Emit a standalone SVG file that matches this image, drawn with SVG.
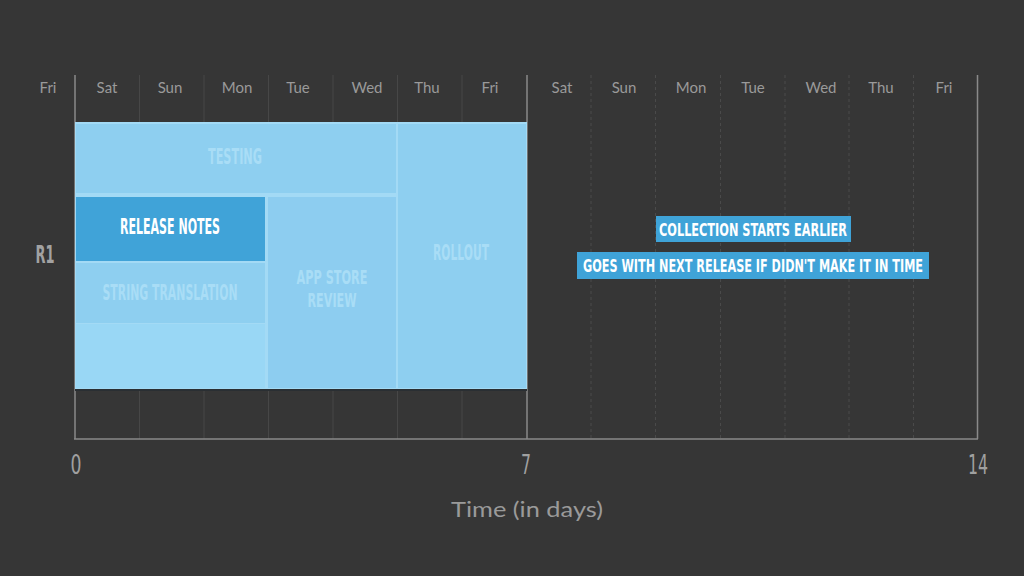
<svg xmlns="http://www.w3.org/2000/svg" width="1024" height="576" viewBox="0 0 1024 576">
<style>
.day{font-family:Lato,"Open Sans",sans-serif;font-size:15px;fill:#9a9a9a;text-anchor:middle}
.cond{font-family:"DejaVu Sans Condensed","DejaVu Sans",sans-serif;font-weight:bold;text-anchor:middle}
.blk{font-size:21px;fill:#a9ddf6}
.grid{stroke:#474747;stroke-width:1}
.dash{stroke:#4a4a4a;stroke-width:1;stroke-dasharray:3 3}
.axis{stroke:#8a8a8a;stroke-width:1.5}
.tag{fill:#3fa3d8}
.tagt{font-size:18.5px;fill:#ffffff}
.num{font-size:26px;fill:#a0a0a0;font-weight:normal}
</style>
<rect width="1024" height="576" fill="#363636"/>
<g id="header">
<text class="day" x="48" y="93">Fri</text>
<text class="day" x="107" y="93">Sat</text>
<text class="day" x="170" y="93">Sun</text>
<text class="day" x="237" y="93">Mon</text>
<text class="day" x="298" y="93">Tue</text>
<text class="day" x="367" y="93">Wed</text>
<text class="day" x="427" y="93">Thu</text>
<text class="day" x="490" y="93">Fri</text>
<text class="day" x="562" y="93">Sat</text>
<text class="day" x="624" y="93">Sun</text>
<text class="day" x="691" y="93">Mon</text>
<text class="day" x="753" y="93">Tue</text>
<text class="day" x="821" y="93">Wed</text>
<text class="day" x="881" y="93">Thu</text>
<text class="day" x="944" y="93">Fri</text>
</g>
<g id="grid">
<line class="grid" x1="139.5" y1="75" x2="139.5" y2="439"/>
<line class="grid" x1="204" y1="75" x2="204" y2="439"/>
<line class="grid" x1="268.5" y1="75" x2="268.5" y2="439"/>
<line class="grid" x1="333" y1="75" x2="333" y2="439"/>
<line class="grid" x1="397.5" y1="75" x2="397.5" y2="439"/>
<line class="grid" x1="462" y1="75" x2="462" y2="439"/>
<line class="dash" x1="591" y1="75" x2="591" y2="439"/>
<line class="dash" x1="655.5" y1="75" x2="655.5" y2="439"/>
<line class="dash" x1="720.5" y1="75" x2="720.5" y2="439"/>
<line class="dash" x1="785" y1="75" x2="785" y2="439"/>
<line class="dash" x1="849" y1="75" x2="849" y2="439"/>
<line class="dash" x1="913.5" y1="75" x2="913.5" y2="439"/>
<line class="axis" x1="75" y1="75" x2="75" y2="439"/>
<line class="axis" x1="527" y1="75" x2="527" y2="439"/>
<line class="axis" x1="977.5" y1="75" x2="977.5" y2="439"/>
<line class="axis" x1="74" y1="439" x2="978" y2="439"/>
</g>
<g id="r1-block">
<rect x="75" y="122" width="452" height="267" fill="#a3daf5"/>
<rect x="75" y="389" width="452" height="2" fill="#2a2f33"/>
</g>
<g id="testing">
<rect x="76" y="124" width="320" height="69" fill="#8ecff0"/>
<text class="cond blk" x="235" y="164" textLength="54" lengthAdjust="spacingAndGlyphs">TESTING</text>
</g>
<g id="release-notes">
<rect x="76" y="197" width="189" height="64" fill="#40a3d8"/>
<text class="cond blk" x="170" y="234" style="fill:#ffffff" textLength="100" lengthAdjust="spacingAndGlyphs">RELEASE NOTES</text>
</g>
<g id="string-translation">
<rect x="76" y="263" width="189" height="60" fill="#8ecff0"/>
<rect x="76" y="324" width="189" height="64" fill="#99d7f5"/>
<text class="cond blk" x="170" y="300" textLength="135" lengthAdjust="spacingAndGlyphs">STRING TRANSLATION</text>
</g>
<g id="app-store-review">
<rect x="268" y="197" width="128" height="191" fill="#8dcdf0"/>
<text class="cond blk" style="font-size:19px"><tspan x="332" y="284" textLength="71" lengthAdjust="spacingAndGlyphs">APP STORE</tspan><tspan x="332" y="307" textLength="49" lengthAdjust="spacingAndGlyphs">REVIEW</tspan></text>
</g>
<g id="rollout">
<rect x="398" y="124" width="128" height="264" fill="#8ecff0"/>
<text class="cond blk" x="461" y="260" textLength="56" lengthAdjust="spacingAndGlyphs">ROLLOUT</text>
</g>
<g id="row-label">
<text class="cond" x="45" y="263" font-size="24" fill="#a2a2a2" textLength="19" lengthAdjust="spacingAndGlyphs">R1</text>
</g>
<g id="note-collection">
<rect class="tag" x="656" y="216" width="195" height="26"/>
<text class="cond tagt" x="753" y="236" textLength="188" lengthAdjust="spacingAndGlyphs">COLLECTION STARTS EARLIER</text>
</g>
<g id="note-next-release">
<rect class="tag" x="577" y="252" width="352" height="27"/>
<text class="cond tagt" x="753" y="272" textLength="340" lengthAdjust="spacingAndGlyphs">GOES WITH NEXT RELEASE IF DIDN'T MAKE IT IN TIME</text>
</g>
<g id="x-axis">
<text class="cond num" x="76" y="474" textLength="11" lengthAdjust="spacingAndGlyphs">0</text>
<text class="cond num" x="526" y="474" textLength="10" lengthAdjust="spacingAndGlyphs">7</text>
<text class="cond num" x="978" y="474" textLength="20" lengthAdjust="spacingAndGlyphs">14</text>
<text x="527" y="517" font-family="Lato,'Open Sans',sans-serif" font-size="22" fill="#9a9a9a" text-anchor="middle" textLength="152" lengthAdjust="spacingAndGlyphs">Time (in days)</text>
</g>
</svg>
